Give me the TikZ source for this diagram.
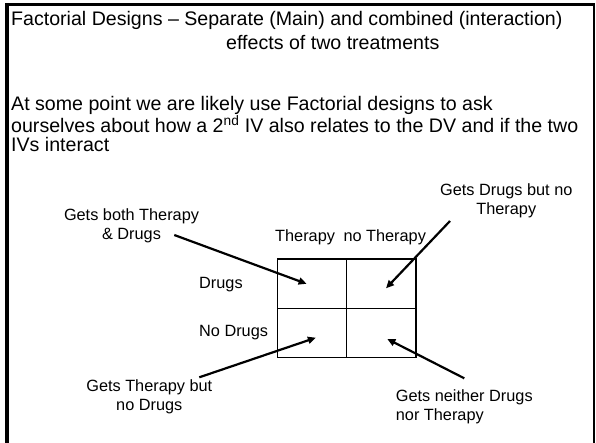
\documentclass[tikz,border=0pt]{standalone}
\usepackage{fontspec}
\setmainfont{Liberation Sans}
\usetikzlibrary{arrows.meta}
\begin{document}
\begin{tikzpicture}[x=1pt,y=-1pt,
  bigtext/.style={font=\fontsize{19.6}{24}\selectfont, inner sep=0, anchor=base west},
  paratext/.style={font=\fontsize{19.6}{18.5}\selectfont, inner sep=0, align=left, anchor=north west},
  lbl/.style={font=\fontsize{16.3}{19}\selectfont, inner sep=0},
  cell/.style={draw, line width=1.6pt, minimum width=69.2pt, minimum height=49.2pt, inner sep=0},
  arr/.style={line width=2.2pt, -{Triangle[length=8pt,width=7pt]}}
]
\useasboundingbox (0,0) rectangle (596,442);
\fill[white] (0,0) rectangle (596,442);
% frame
\draw[line width=4pt] (7,446) -- (7,3);
\draw[line width=2.7pt] (5,4.7) -- (594.5,4.7);
\draw[line width=2pt] (593.5,3.5) -- (593.5,446);
% title
\node[bigtext] (t1) at (11,25.5) {Factorial Designs – Separate (Main) and combined (interaction)};
\node[bigtext] (t2) at (226,49.3) {effects of two treatments};
% paragraph
\node[paratext] (p) at (11,96) {At some point we are likely use Factorial designs to ask\\ourselves about how a 2\textsuperscript{nd} IV also relates to the DV and if the two\\IVs interact};
% grid
\node[cell] (c11) at (312.0,283.8) {};
\node[cell] (c12) at (381.2,283.8) {};
\node[cell] (c21) at (312.0,333.0) {};
\node[cell] (c22) at (381.2,333.0) {};
% headers
\node[lbl, anchor=base west] (hT) at (275,241.7) {Therapy};
\node[lbl, anchor=base west] (hN) at (343.3,241.7) {no Therapy};
\node[lbl, anchor=base west] (rD) at (199,288.3) {Drugs};
\node[lbl, anchor=base west] (rN) at (199,336.7) {No Drugs};
% labels
\node[lbl, align=center, anchor=north] (L1) at (131.5,208.1) {Gets both Therapy\\\& Drugs};
\node[lbl, align=center, anchor=north] (L2) at (506.3,183.1) {Gets Drugs but no\\Therapy};
\node[lbl, align=center, anchor=north] (L3) at (149.3,379.8) {Gets Therapy but\\no Drugs};
\node[lbl, align=left, anchor=north west] (L4) at (395.7,389.8) {Gets neither Drugs\\nor Therapy};
% arrows
\coordinate (s1) at (174.3,235);
\coordinate (s2) at (450,221);
\coordinate (s3) at (199.3,377.3);
\coordinate (s4) at (464.3,378.3);
\draw[arr] (s1) -- ([xshift=-5.4pt]c11.center);
\draw[arr] (s2) -- ([xshift=4.8pt,yshift=-4.5pt]c12.center);
\draw[arr] (s3) -- ([xshift=3.9pt,yshift=-4.7pt]c21.center);
\draw[arr] (s4) -- ([xshift=6.1pt,yshift=-6pt]c22.center);
\end{tikzpicture}
\end{document}
